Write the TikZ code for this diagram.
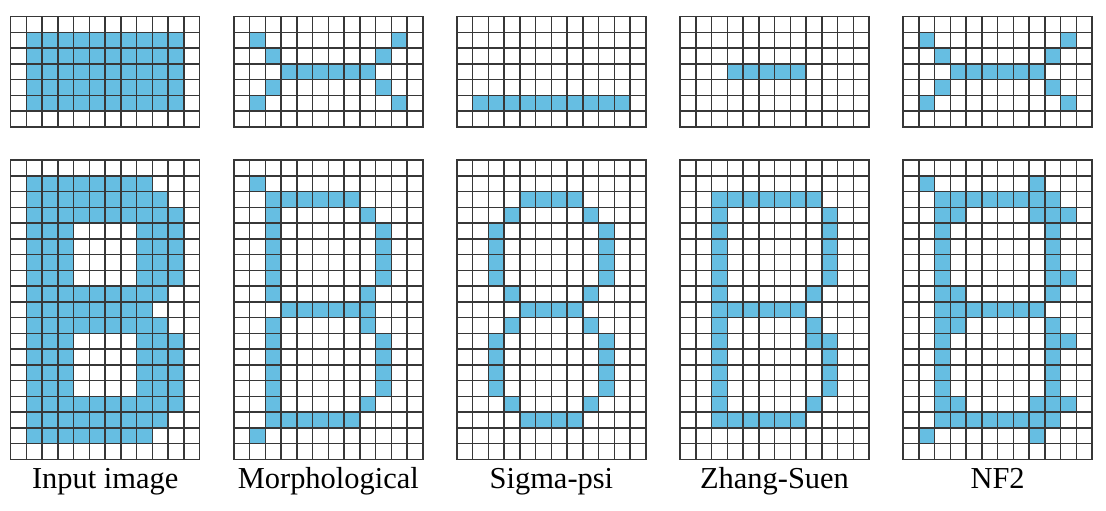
\documentclass[tikz,border=0pt]{standalone}
\usepackage{fontspec}
\setmainfont{Liberation Serif}
\usepackage{tikz}
\definecolor{pixelblue}{RGB}{102,190,226}
\definecolor{gridgray}{RGB}{55,55,55}

% 12 columns, #1 rows
\newcommand{\pixgrid}[1]{%
  \foreach \c in {0,...,12} \draw[gridline] (\c,0) -- (\c,#1);
  \foreach \r in {0,...,#1} \draw[gridline] (0,\r) -- (12,\r);
}

\begin{document}
\begin{tikzpicture}[x=0.4cm, y=-0.4cm,
    pix/.style={fill=pixelblue},
    gridline/.style={gridgray, line width=1.1pt, line cap=rect},
    caption/.style={anchor=base, font=\fontsize{22}{26}\selectfont}]
  \useasboundingbox (0,0) rectangle (70.22,32.44);

  % Input image
  \begin{scope}[shift={(0.68,1.06)}]
    \fill[pix] (1,1) rectangle (11,6);
    \pixgrid{7}
  \end{scope}
  \begin{scope}[shift={(0.68,10.16)}]
    \foreach \r/\a/\b in {1/1/8, 2/1/9, 3/1/10, 4/1/3, 5/1/3, 6/1/3, 7/1/3,
        4/8/10, 5/8/10, 6/8/10, 7/8/10, 8/1/9, 9/1/8, 10/1/9,
        11/1/3, 12/1/3, 13/1/3, 14/1/3, 11/8/10, 12/8/10, 13/8/10, 14/8/10,
        15/1/10, 16/1/9, 17/1/8}
      \fill[pix] (\a,\r) rectangle (\b+1,\r+1);
    \pixgrid{19}
    \node[caption] (lblinput) at (6,20.85) {Input image};
  \end{scope}

  % Morphological
  \begin{scope}[shift={(14.845,1.06)}]
    \foreach \r/\a/\b in {1/1/1, 1/10/10, 2/2/2, 2/9/9, 3/3/8, 4/2/2, 4/9/9, 5/1/1, 5/10/10}
      \fill[pix] (\a,\r) rectangle (\b+1,\r+1);
    \pixgrid{7}
  \end{scope}
  \begin{scope}[shift={(14.845,10.16)}]
    \foreach \r/\a/\b in {1/1/1, 2/2/7, 3/2/2, 3/8/8, 4/2/2, 5/2/2, 6/2/2, 7/2/2,
        4/9/9, 5/9/9, 6/9/9, 7/9/9, 8/2/2, 8/8/8, 9/3/8, 10/2/2, 10/8/8,
        11/2/2, 12/2/2, 13/2/2, 14/2/2, 11/9/9, 12/9/9, 13/9/9, 14/9/9,
        15/2/2, 15/8/8, 16/2/7, 17/1/1}
      \fill[pix] (\a,\r) rectangle (\b+1,\r+1);
    \pixgrid{19}
    \node[caption] (lblmorph) at (6,20.85) {Morphological};
  \end{scope}

  % Sigma-psi
  \begin{scope}[shift={(29.01,1.06)}]
    \fill[pix] (1,5) rectangle (11,6);
    \pixgrid{7}
  \end{scope}
  \begin{scope}[shift={(29.01,10.16)}]
    \foreach \r/\a/\b in {2/4/7, 3/3/3, 3/8/8, 4/2/2, 5/2/2, 6/2/2, 7/2/2,
        4/9/9, 5/9/9, 6/9/9, 7/9/9, 8/3/3, 8/8/8, 9/4/7, 10/3/3, 10/8/8,
        11/2/2, 12/2/2, 13/2/2, 14/2/2, 11/9/9, 12/9/9, 13/9/9, 14/9/9,
        15/3/3, 15/8/8, 16/4/7}
      \fill[pix] (\a,\r) rectangle (\b+1,\r+1);
    \pixgrid{19}
    \node[caption] (lblsigma) at (6,20.85) {Sigma-psi};
  \end{scope}

  % Zhang-Suen
  \begin{scope}[shift={(43.175,1.06)}]
    \fill[pix] (3,3) rectangle (8,4);
    \pixgrid{7}
  \end{scope}
  \begin{scope}[shift={(43.175,10.16)}]
    \fill[pix] (2,2) rectangle (3,17);
    \foreach \r/\a/\b in {2/3/8, 3/9/9, 4/9/9, 5/9/9, 6/9/9, 7/9/9, 8/8/8,
        9/3/7, 10/8/8, 11/8/9, 12/9/9, 13/9/9, 14/9/9, 15/8/8, 16/3/7}
      \fill[pix] (\a,\r) rectangle (\b+1,\r+1);
    \pixgrid{19}
    \node[caption] (lblzhang) at (6,20.85) {Zhang-Suen};
  \end{scope}

  % NF2
  \begin{scope}[shift={(57.34,1.06)}]
    \foreach \r/\a/\b in {1/1/1, 1/10/10, 2/2/2, 2/9/9, 3/3/8, 4/2/2, 4/9/9, 5/1/1, 5/10/10}
      \fill[pix] (\a,\r) rectangle (\b+1,\r+1);
    \pixgrid{7}
  \end{scope}
  \begin{scope}[shift={(57.34,10.16)}]
    \fill[pix] (2,2) rectangle (3,17);
    \fill[pix] (9,2) rectangle (10,17);
    \foreach \r/\a/\b in {1/1/1, 1/8/8, 2/3/8, 3/3/3, 3/8/8, 3/10/10, 7/10/10,
        8/3/3, 9/3/8, 10/3/3, 11/10/10, 15/3/3, 15/8/8, 15/10/10, 16/3/8,
        17/1/1, 17/8/8}
      \fill[pix] (\a,\r) rectangle (\b+1,\r+1);
    \fill[white] (9,9) rectangle (10,10);
    \pixgrid{19}
    \node[caption] (lblnf) at (6,20.85) {NF2};
  \end{scope}
\end{tikzpicture}
\end{document}
